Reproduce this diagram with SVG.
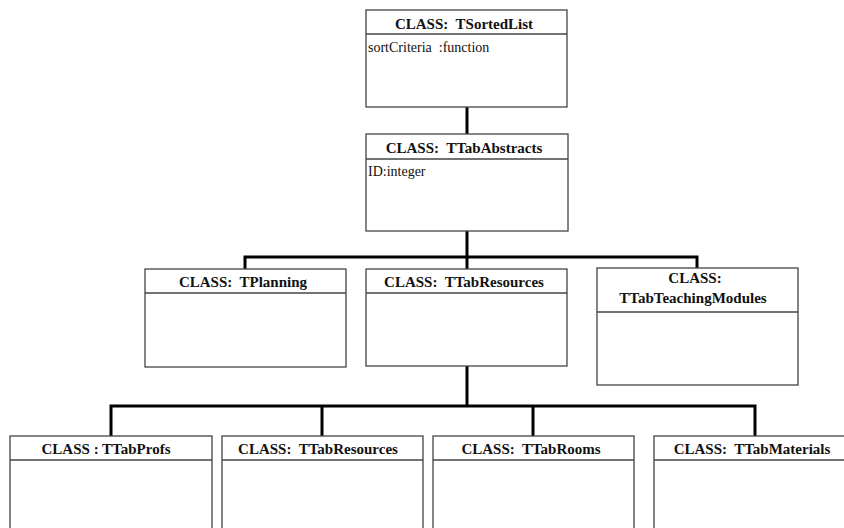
<svg xmlns="http://www.w3.org/2000/svg" width="844" height="528" viewBox="0 0 844 528">
<style>
.box{fill:#fff;stroke:#444;stroke-width:1.3}
.sep{stroke:#444;stroke-width:1.3}
.hd{font-family:"Liberation Serif","Times New Roman",serif;font-weight:bold;font-size:15px;fill:#111;text-anchor:middle;white-space:pre}
.bd{font-family:"Liberation Serif","Times New Roman",serif;font-size:14px;fill:#111;white-space:pre}
.con{fill:none;stroke:#000;stroke-width:3}
</style>
<rect width="844" height="528" fill="#fff"/>
<g id="connectors">
<line class="con" x1="467" y1="107" x2="467" y2="134"/>
<line class="con" x1="467" y1="231" x2="467" y2="269"/>
<polyline class="con" points="245,269 245,257 697,257 697,268"/>
<line class="con" x1="467" y1="366" x2="467" y2="406"/>
<polyline class="con" points="111,436 111,406 755,406 755,436"/>
<line class="con" x1="322" y1="406" x2="322" y2="436"/>
<line class="con" x1="533" y1="406" x2="533" y2="436"/>
</g>
<g id="TSortedList">
<rect class="box" x="366" y="10" width="201" height="97"/>
<line class="sep" x1="366" y1="34" x2="567" y2="34"/>
<text class="hd" x="464" y="29">CLASS:  TSortedList</text>
<text class="bd" x="368" y="52">sortCriteria  :function</text>
</g>
<g id="TTabAbstracts">
<rect class="box" x="366" y="134" width="202" height="97"/>
<line class="sep" x1="366" y1="159" x2="568" y2="159"/>
<text class="hd" x="464" y="153">CLASS:  TTabAbstracts</text>
<text class="bd" x="368" y="176">ID:integer</text>
</g>
<g id="TPlanning">
<rect class="box" x="145" y="269" width="201" height="98"/>
<line class="sep" x1="145" y1="293" x2="346" y2="293"/>
<text class="hd" x="243" y="287">CLASS:  TPlanning</text>
</g>
<g id="TTabResources1">
<rect class="box" x="366" y="269" width="201" height="97"/>
<line class="sep" x1="366" y1="293" x2="567" y2="293"/>
<text class="hd" x="464" y="287">CLASS:  TTabResources</text>
</g>
<g id="TTabTeachingModules">
<rect class="box" x="597" y="268" width="201" height="117"/>
<line class="sep" x1="597" y1="312" x2="798" y2="312"/>
<text class="hd" x="695" y="283">CLASS:</text>
<text class="hd" x="693" y="303">TTabTeachingModules</text>
</g>
<g id="TTabProfs">
<rect class="box" x="10" y="436" width="202" height="110"/>
<line class="sep" x1="10" y1="460" x2="212" y2="460"/>
<text class="hd" x="106" y="454">CLASS : TTabProfs</text>
</g>
<g id="TTabResources2">
<rect class="box" x="222" y="436" width="201" height="110"/>
<line class="sep" x1="222" y1="460" x2="423" y2="460"/>
<text class="hd" x="318" y="454">CLASS:  TTabResources</text>
</g>
<g id="TTabRooms">
<rect class="box" x="433" y="436" width="201" height="110"/>
<line class="sep" x1="433" y1="460" x2="634" y2="460"/>
<text class="hd" x="531" y="454">CLASS:  TTabRooms</text>
</g>
<g id="TTabMaterials">
<rect class="box" x="654" y="436" width="202" height="110"/>
<line class="sep" x1="654" y1="460" x2="856" y2="460"/>
<text class="hd" x="752" y="454">CLASS:  TTabMaterials</text>
</g>
</svg>
